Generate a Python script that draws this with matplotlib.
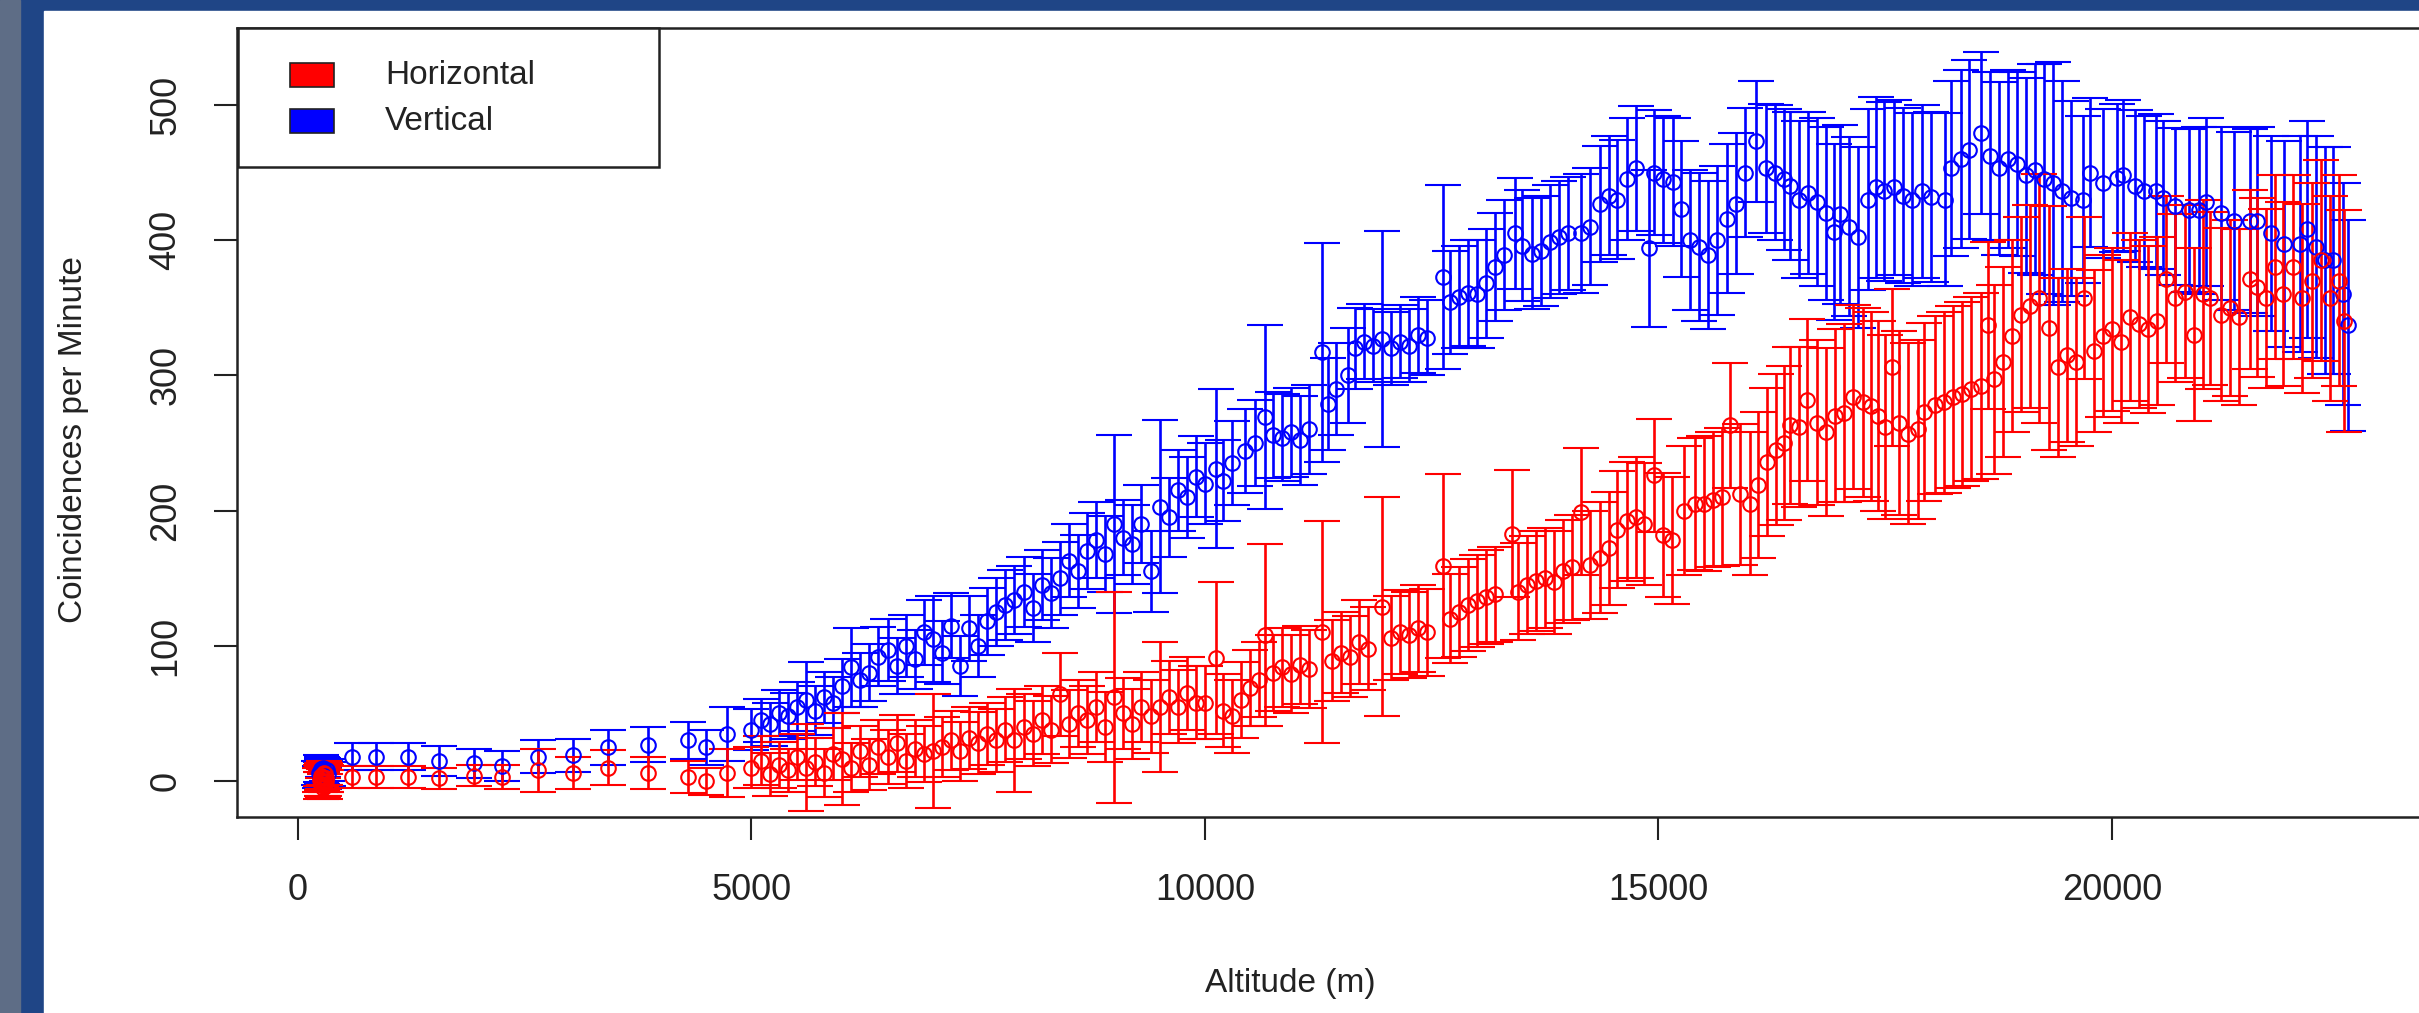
import matplotlib
matplotlib.use('Agg')
import matplotlib.pyplot as plt
from matplotlib.patches import Rectangle

plt.rcParams['font.family'] = ['Liberation Sans', 'DejaVu Sans']

# Vertical telescope (blue): altitude (m), coincidences per minute, error
vert_alt = [230, 240, 250, 255, 260, 265, 270, 280, 290, 300, 315, 330,
            600, 860, 1210, 1550, 1940, 2250, 2650, 3030, 3420, 3860, 4300, 4500, 4730,
            5000, 5100, 5200, 5300, 5400, 5500, 5600, 5700, 5800, 5900,
            6000, 6100, 6200, 6300, 6400, 6500, 6600, 6700, 6800, 6900,
            7000, 7100, 7200, 7300, 7400, 7500, 7600, 7700, 7800, 7900,
            8000, 8100, 8200, 8300, 8400, 8500, 8600, 8700, 8800, 8900,
            9000, 9100, 9200, 9300, 9400, 9500, 9600, 9700, 9800, 9900,
            10000, 10120, 10200, 10300, 10440, 10550, 10660, 10750, 10850, 10950,
            11050, 11150, 11290, 11360, 11450, 11580, 11650, 11750, 11850, 11950,
            12050, 12150, 12250, 12350, 12450, 12620, 12700, 12800, 12900, 13000,
            13100, 13200, 13300, 13420, 13500, 13600, 13700, 13800, 13900, 14000,
            14150, 14250, 14350, 14450, 14540, 14650, 14750, 14900, 14950, 15050,
            15160, 15250, 15350, 15450, 15550, 15640, 15750, 15860, 15950, 16080,
            16180, 16280, 16380, 16450, 16550, 16650, 16750, 16850, 16930, 17000,
            17100, 17200, 17310, 17400, 17490, 17600, 17700, 17800, 17900, 18000,
            18160, 18230, 18330, 18420, 18560, 18650, 18750, 18850, 18950, 19050,
            19150, 19250, 19350, 19450, 19550, 19680, 19760, 19900, 20050, 20120,
            20250, 20350, 20490, 20560, 20700, 20850, 20960, 21040, 21200, 21350,
            21520, 21600, 21750, 21900, 22070, 22150, 22250, 22350, 22440, 22550,
            22600]
vert_rate = [6, 3, 9, 5, 8, 4, 7, 10, 2, 6, 8, 5,
             18, 18, 18, 15, 13, 11, 18, 19, 25, 27, 30, 25, 35,
             38, 45, 42, 50, 48, 55, 60, 52, 62, 58,
             70, 84, 75, 80, 92, 97, 85, 100, 90, 110,
             105, 95, 115, 85, 113, 100, 118, 125, 130, 134,
             140, 128, 145, 139, 150, 163, 155, 170, 178, 168,
             190, 180, 175, 190, 155, 203, 195, 215, 210, 225,
             220, 231, 222, 235, 244, 250, 269, 256, 254, 258,
             252, 260, 317, 279, 290, 300, 320, 325, 322, 327,
             320, 325, 322, 330, 328, 373, 354, 358, 361, 360,
             368, 380, 389, 405, 396, 390, 392, 399, 402, 405,
             405, 410, 427, 433, 430, 445, 453, 394, 450, 445,
             443, 423, 400, 395, 389, 400, 416, 427, 450, 473,
             453, 450, 445, 440, 430, 435, 428, 420, 406, 419,
             410, 402, 430, 439, 436, 439, 433, 430, 436, 432,
             430, 453, 460, 467, 479, 462, 453, 460, 456, 448,
             452, 445, 442, 436, 431, 430, 450, 442, 446, 448,
             440, 436, 436, 431, 425, 422, 422, 428, 420, 414,
             414, 414, 405, 397, 397, 408, 395, 385, 385, 360,
             337]
vert_err = [9, 8, 10, 9, 10, 8, 9, 7, 8, 9, 8, 9,
            10, 10, 10, 11, 11, 11, 12, 12, 13, 13, 14, 13, 20,
            15, 16, 16, 17, 17, 18, 28, 18, 19, 19,
            20, 29, 20, 21, 22, 23, 21, 23, 22, 24,
            32, 23, 24, 22, 24, 23, 25, 25, 26, 25,
            26, 25, 26, 26, 27, 27, 27, 28, 28, 28,
            66, 28, 29, 29, 30, 64, 29, 30, 30, 30,
            30, 59, 30, 31, 31, 32, 68, 32, 32, 33,
            33, 33, 81, 34, 34, 35, 30, 28, 27, 80,
            27, 27, 27, 28, 28, 68, 38, 38, 39, 40,
            40, 40, 41, 41, 41, 41, 41, 42, 42, 42,
            44, 43, 43, 44, 44, 45, 46, 58, 46, 47,
            47, 50, 52, 55, 55, 55, 55, 52, 48, 45,
            48, 50, 52, 55, 58, 60, 62, 64, 65, 66,
            66, 67, 67, 67, 66, 65, 65, 64, 64, 63,
            64, 65, 66, 66, 60, 62, 64, 66, 68, 72,
            78, 85, 90, 82, 72, 62, 55, 55, 55, 56,
            56, 56, 57, 57, 58, 60, 62, 62, 64, 66,
            68, 70, 72, 76, 80, 80, 82, 84, 84, 82,
            78]

# Horizontal telescope (red)
horiz_alt = [245, 250, 255, 260, 265, 270, 275, 280, 285, 290, 295, 300, 305, 310,
             600, 860, 1210, 1550, 1940, 2250, 2650, 3030, 3420, 3860, 4300, 4500, 4730,
             5000, 5100, 5200, 5300, 5400, 5500, 5600, 5700, 5800, 5900,
             6000, 6100, 6200, 6300, 6400, 6500, 6600, 6700, 6800, 6900,
             7000, 7100, 7200, 7300, 7400, 7500, 7600, 7700, 7800, 7900,
             8000, 8100, 8200, 8300, 8400, 8500, 8600, 8700, 8800, 8900,
             9000, 9100, 9200, 9300, 9400, 9500, 9600, 9700, 9800, 9900,
             10000, 10120, 10200, 10300, 10400, 10500, 10600, 10660, 10750, 10850,
             10950, 11050, 11150, 11290, 11400, 11500, 11600, 11700, 11800, 11950,
             12050, 12150, 12250, 12350, 12450, 12620, 12700, 12800, 12900, 13000,
             13100, 13200, 13380, 13450, 13550, 13650, 13750, 13850, 13950, 14050,
             14150, 14250, 14350, 14450, 14540, 14650, 14750, 14840, 14950, 15050,
             15150, 15280, 15400, 15500, 15600, 15700, 15790, 15900, 16010, 16100,
             16200, 16300, 16380, 16450, 16550, 16640, 16750, 16850, 16950, 17050,
             17150, 17250, 17340, 17420, 17500, 17570, 17650, 17750, 17860, 17930,
             18050, 18150, 18250, 18350, 18450, 18560, 18630, 18700, 18800, 18900,
             19000, 19100, 19200, 19300, 19400, 19500, 19600, 19690, 19800, 19900,
             20000, 20100, 20200, 20300, 20400, 20500, 20600, 20700, 20800, 20900,
             21000, 21080, 21200, 21300, 21400, 21520, 21600, 21700, 21800, 21890,
             22000, 22100, 22200, 22300, 22400, 22500, 22560]
horiz_rate = [1, -3, 4, 0, -2, 3, 2, -5, 6, -1, 5, -4, 2, 0,
              3, 3, 3, 2, 4, 3, 8, 6, 10, 6, 3, 0, 6,
              10, 15, 5, 12, 8, 18, 10, 14, 6, 20,
              16, 10, 22, 12, 25, 18, 28, 15, 24, 20,
              22, 25, 30, 22, 32, 28, 35, 30, 38, 30,
              40, 35, 45, 38, 64, 42, 50, 45, 55, 40,
              62, 50, 42, 55, 48, 55, 62, 55, 65, 58,
              58, 91, 52, 48, 60, 69, 75, 108, 80, 84,
              79, 86, 83, 110, 89, 95, 92, 103, 98, 129,
              106, 110, 108, 113, 110, 159, 120, 125, 130, 133,
              136, 138, 183, 140, 145, 148, 150, 147, 155, 158,
              199, 160, 165, 172, 186, 192, 195, 190, 226, 182,
              178, 200, 205, 205, 208, 210, 263, 212, 205, 219,
              236, 245, 250, 263, 262, 282, 265, 258, 270, 272,
              284, 280, 277, 270, 262, 306, 265, 257, 260, 273,
              278, 280, 284, 286, 290, 292, 337, 297, 310, 329,
              345, 351, 357, 335, 306, 315, 310, 357, 318, 329,
              334, 325, 343, 338, 334, 340, 371, 357, 362, 330,
              360, 357, 345, 350, 343, 371, 365, 357, 380, 360,
              380, 357, 370, 385, 357, 370, 340]
horiz_err = [9, 10, 8, 11, 9, 10, 8, 7, 9, 10, 8, 9, 10, 8,
             8, 8, 8, 8, 8, 9, 16, 12, 13, 12, 12, 10, 18,
             15, 18, 16, 17, 16, 17, 32, 18, 18, 19,
             34, 18, 19, 19, 20, 20, 21, 20, 21, 21,
             42, 22, 22, 22, 23, 23, 23, 23, 24, 38,
             24, 24, 25, 25, 31, 25, 25, 25, 26, 26,
             78, 26, 26, 26, 27, 48, 27, 27, 27, 27,
             27, 56, 27, 27, 28, 28, 28, 67, 28, 29,
             29, 29, 29, 82, 30, 30, 30, 31, 31, 81,
             31, 31, 32, 32, 32, 68, 33, 33, 34, 34,
             35, 35, 47, 36, 36, 37, 37, 38, 38, 39,
             47, 40, 41, 42, 43, 44, 45, 45, 42, 46,
             47, 48, 49, 50, 50, 51, 46, 52, 53, 54,
             55, 56, 57, 58, 59, 60, 61, 62, 64, 66,
             68, 70, 70, 70, 68, 58, 68, 67, 66, 66,
             66, 67, 67, 68, 68, 69, 62, 70, 70, 71,
             72, 75, 92, 90, 66, 64, 62, 60, 60, 60,
             60, 60, 62, 62, 62, 62, 62, 62, 64, 64,
             70, 64, 64, 65, 65, 66, 66, 66, 68, 68,
             68, 70, 72, 74, 76, 78, 82]

x_ticks = [0, 5000, 10000, 15000, 20000]
y_ticks = [0, 100, 200, 300, 400, 500]

W, H = 2419, 1013


def fx(px):
    return px / W


def fy(py):
    return 1 - py / H


fig = plt.figure(figsize=(W / 100, H / 100), dpi=100)
fig.patch.set_facecolor('#1f4586')
fig.add_artist(Rectangle((0, 0), fx(20), 1, transform=fig.transFigure,
                         color='#5e6d86', zorder=-2))
fig.add_artist(Rectangle((fx(44), 0), 1 - fx(44), fy(11), transform=fig.transFigure,
                         color='white', zorder=-1))

ax = fig.add_axes([fx(237), fy(817), fx(2429) - fx(237), fy(28) - fy(817)])
ax.set_facecolor('white')

ax.errorbar(vert_alt, vert_rate, yerr=vert_err, fmt='o', mfc='none', mec='blue',
            ecolor='blue', ms=10.5, mew=1.5, elinewidth=1.9, capsize=13, capthick=1.9)
ax.errorbar(horiz_alt, horiz_rate, yerr=horiz_err, fmt='o', mfc='none', mec='red',
            ecolor='red', ms=10.5, mew=1.5, elinewidth=1.9, capsize=13, capthick=1.9)

ax.set_xlim(-672, 23495)
ax.set_ylim(-26.6, 556.9)
ax.set_xticks(x_ticks)
ax.set_yticks(y_ticks)
ax.set_xticklabels([str(t) for t in x_ticks])
ax.set_yticklabels([str(t) for t in y_ticks], rotation=90, va='center')
ax.tick_params(length=16.5, width=1.5, labelsize=26, color='#222222', labelcolor='#222222')
ax.tick_params(axis='x', pad=24)
ax.tick_params(axis='y', pad=22)
for s in ax.spines.values():
    s.set_linewidth(1.8)
    s.set_color('#222222')

fig.text(fx(1290), fy(983), 'Altitude (m)', ha='center', va='center',
         fontsize=24, color='#222222')
fig.text(fx(74), fy(440), 'Coincidences per Minute', ha='center', va='center',
         rotation=90, fontsize=24, color='#222222')

# legend box, drawn by hand like R's legend("topleft")
fig.add_artist(Rectangle((fx(238), fy(167)), fx(659) - fx(238), fy(28) - fy(167),
                         transform=fig.transFigure, facecolor='white',
                         edgecolor='#222222', lw=1.8, zorder=5))
for name, col, yc in [('Horizontal', 'red', 75), ('Vertical', 'blue', 121)]:
    fig.add_artist(Rectangle((fx(290), fy(yc + 12)), fx(334) - fx(290), fy(yc - 12) - fy(yc + 12),
                             transform=fig.transFigure, facecolor=col,
                             edgecolor='#222222', lw=1.2, zorder=6))
    fig.text(fx(385), fy(yc), name, ha='left', va='center', fontsize=24,
             color='#222222', zorder=7)

fig.savefig('out.png', dpi=100, facecolor=fig.get_facecolor())
